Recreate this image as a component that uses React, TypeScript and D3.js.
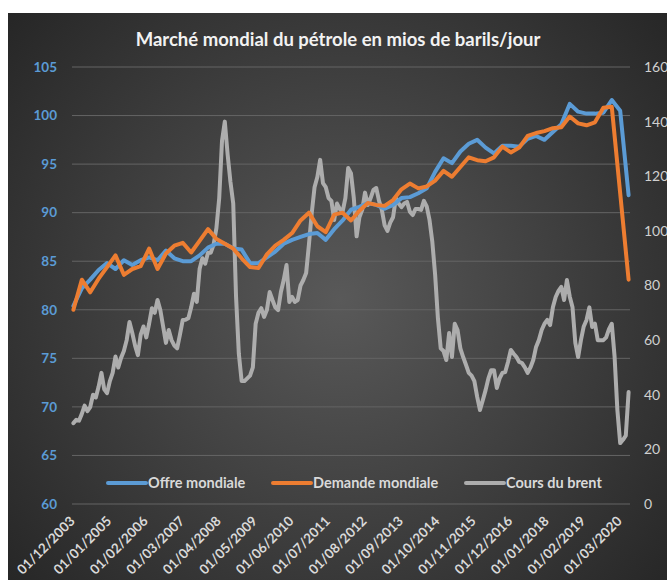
import React from "react";
import * as d3 from "d3";

// Monthly Brent price ($/baril), Dec 2003 → Jun 2020
const brent = [
  29.6, 30.8, 30.5, 33, 36, 34, 35.5, 40, 39, 43, 48, 42, 40.6,
  45, 48, 54, 50, 53.5, 56, 60, 66.6, 62.6, 58, 54.5, 62,
  65, 61, 66, 71.7, 70, 74.7, 71, 65, 59, 63.7, 60, 58,
  57, 62, 67.4, 67.5, 68, 72, 77, 74, 86, 90, 88, 92,
  92, 95, 101, 112, 133, 140, 128, 118, 110, 76, 55, 45,
  45, 46, 47, 50, 66, 70, 71.7, 68.5, 71, 77.6, 74.7, 72,
  71, 77.6, 82, 87.5, 74, 75.8, 74, 74.7, 80, 82, 84.6, 95,
  106.5, 116, 119.7, 126, 117.5, 116, 112, 111, 104, 110, 108, 107,
  112, 123, 121, 112, 98, 105, 107.7, 114, 109.5, 112, 115, 115.7,
  111, 107.7, 102, 100, 103, 105, 112, 110, 108.7, 110, 110.6, 107,
  105.8, 108, 108, 107.7, 111, 109, 104, 96, 84, 68, 57, 56,
  52.7, 62.6, 53.8, 66, 63.7, 57, 53.8, 51, 48, 47, 45, 39.2,
  34.4, 38, 41.7, 46, 49, 49, 42.5, 46, 48, 48.3, 52, 56.4,
  55, 53.8, 52, 51.6, 50, 48, 50, 52.7, 57.5, 60, 63.7, 66,
  67.4, 65.5, 72, 75.8, 78, 79.5, 74.7, 82, 76, 72, 59, 53.8,
  60, 65, 67.4, 72, 64.8, 66, 60, 60, 60, 61, 64, 66,
  54, 34.4, 22.3, 23.5, 25, 41,
];

// Quarterly world supply and demand (mios de barils/jour), Dec 2003 → Jun 2020
const offre = [
  80.4, 82.2, 83.1, 84.1, 84.8, 84.2, 85.1, 84.6, 85.1, 85.4,
  85.1, 86.1, 85.3, 85.0, 85.0, 85.6, 86.4, 86.8, 86.8, 86.3,
  86.2, 84.8, 84.8, 85.4, 86.0, 86.8, 87.2, 87.5, 87.8, 87.9,
  87.2, 88.3, 89.2, 90.3, 90.6, 91.0, 90.8, 90.4, 90.8, 91.5,
  91.6, 92.0, 92.5, 94.2, 95.6, 95.1, 96.3, 97.1, 97.5, 96.7,
  96.1, 96.9, 96.9, 96.8, 97.6, 97.9, 97.5, 98.3, 99.1, 101.2,
  100.4, 100.2, 100.2, 100.3, 101.6, 100.5, 91.8,
];
const demande = [
  80.0, 83.1, 81.8, 83.2, 84.4, 85.6, 83.6, 84.2, 84.5, 86.3,
  84.2, 85.8, 86.6, 86.9, 85.9, 87.1, 88.3, 87.3, 86.8, 86.3,
  85.3, 84.4, 84.3, 85.7, 86.6, 87.2, 87.9, 89.2, 90.0, 88.6,
  88.0, 89.8, 90.0, 89.2, 90.2, 91.0, 90.8, 90.7, 91.3, 92.4,
  93.0, 92.5, 92.7, 93.3, 94.3, 93.7, 94.7, 95.7, 95.4, 95.3,
  95.7, 96.8, 96.2, 96.7, 97.9, 98.2, 98.4, 98.7, 98.8, 99.9,
  99.2, 99.0, 99.3, 100.8, 100.9, 92.0, 83.1,
];

const tickLabels = [
  "01/12/2003", "01/01/2005", "01/02/2006", "01/03/2007", "01/04/2008",
  "01/05/2009", "01/06/2010", "01/07/2011", "01/08/2012", "01/09/2013",
  "01/10/2014", "01/11/2015", "01/12/2016", "01/01/2018", "01/02/2019",
  "01/03/2020",
];
const leftTicks = [60, 65, 70, 75, 80, 85, 90, 95, 100, 105];
const rightTicks = [0, 20, 40, 60, 80, 100, 120, 140, 160];

const series = [
  { name: "Offre mondiale", color: "#5b9bd5" },
  { name: "Demande mondiale", color: "#ed7d31" },
  { name: "Cours du brent", color: "#adadad" },
];

const W = 667;
const H = 580;
const plot = { left: 72, right: 630, top: 67, bottom: 504 };
const FONT = "Lato, 'Open Sans', sans-serif";

const start = new Date(2003, 11, 1);
const months = d3.timeMonth.range(start, new Date(2020, 6, 1));
const parseFr = d3.timeParse("%d/%m/%Y");

export default function App() {
  const x = d3
    .scaleBand<number>()
    .domain(months.map((_, i) => i))
    .range([plot.left, plot.right])
    .padding(0);
  const cx = (i: number) => (x(i) as number) + x.bandwidth() / 2;

  const yL = d3.scaleLinear().domain([60, 105]).range([plot.bottom, plot.top]);
  const yR = d3.scaleLinear().domain([0, 160]).range([plot.bottom, plot.top]);

  const quarterIdx = months.map((_, i) => i).filter((i) => i % 3 === 0);

  const lineL = d3
    .line<number>()
    .x((_, k) => cx(quarterIdx[k]))
    .y((v) => yL(v));
  const lineR = d3
    .line<number>()
    .x((_, i) => cx(i))
    .y((v) => yR(v));

  const legendItems = [
    { ...series[0], x: 108 },
    { ...series[1], x: 273 },
    { ...series[2], x: 466 },
  ];

  return (
    <svg
      width={W}
      height={H}
      style={{ position: "absolute", left: 0, top: 0, display: "block" }}
      fontFamily={FONT}
    >
      <defs>
        <radialGradient
          id="bg"
          gradientUnits="userSpaceOnUse"
          cx={340}
          cy={300}
          r={440}
        >
          <stop offset="0" stopColor="#595959" />
          <stop offset="1" stopColor="#262626" />
        </radialGradient>
      </defs>
      <rect x={0} y={0} width={W} height={H} fill="#ffffff" />
      <rect x={8} y={13} width={W} height={H} fill="url(#bg)" />

      <text
        x={338}
        y={46}
        textAnchor="middle"
        fill="#f2f2f2"
        fontSize={18.5}
        fontWeight={700}
      >
        Marché mondial du pétrole en mios de barils/jour
      </text>

      {leftTicks.map((t) => (
        <g key={t}>
          <line
            x1={plot.left}
            x2={plot.right}
            y1={yL(t)}
            y2={yL(t)}
            stroke="#646464"
            strokeWidth={1}
          />
          <text
            x={57}
            y={yL(t)}
            dy="0.35em"
            textAnchor="end"
            fill="#5b9bd5"
            fontSize={13.5}
            fontWeight={700}
          >
            {t}
          </text>
        </g>
      ))}

      {rightTicks.map((t) => (
        <text
          key={t}
          x={644}
          y={yR(t)}
          dy="0.35em"
          textAnchor="start"
          fill="#d0d0d0"
          fontSize={14}
        >
          {t}
        </text>
      ))}

      {tickLabels.map((s) => {
        const i = d3.timeMonth.count(start, parseFr(s) as Date);
        const px = cx(i) + 2.5;
        const py = 522;
        return (
          <text
            key={s}
            x={px}
            y={py}
            transform={`rotate(-45 ${px} ${py})`}
            textAnchor="end"
            fill="#d9d9d9"
            fontSize={13.5}
            fontWeight={700}
          >
            {s}
          </text>
        );
      })}

      <path
        d={lineR(brent) ?? ""}
        fill="none"
        stroke={series[2].color}
        strokeWidth={4}
        strokeLinejoin="round"
        strokeLinecap="round"
      />
      <path
        d={lineL(offre) ?? ""}
        fill="none"
        stroke={series[0].color}
        strokeWidth={4}
        strokeLinejoin="round"
        strokeLinecap="round"
      />
      <path
        d={lineL(demande) ?? ""}
        fill="none"
        stroke={series[1].color}
        strokeWidth={4}
        strokeLinejoin="round"
        strokeLinecap="round"
      />

      {legendItems.map((it) => (
        <g key={it.name}>
          <line
            x1={it.x}
            x2={it.x + 38}
            y1={483}
            y2={483}
            stroke={it.color}
            strokeWidth={4}
            strokeLinecap="round"
          />
          <text
            x={it.x + 40}
            y={483}
            dy="0.35em"
            fill="#d9d9d9"
            fontSize={14.5}
            fontWeight={700}
          >
            {it.name}
          </text>
        </g>
      ))}
    </svg>
  );
}
